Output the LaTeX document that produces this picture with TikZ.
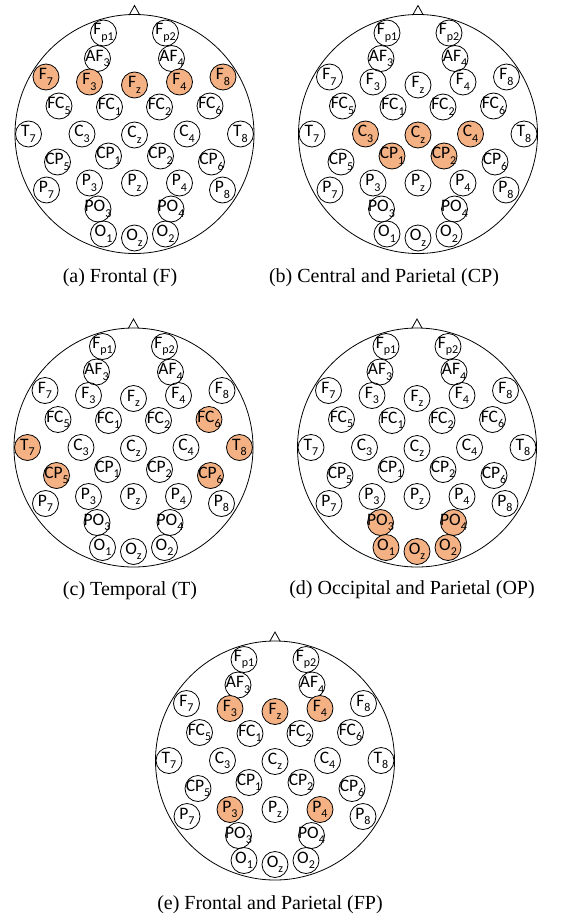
\documentclass[tikz,border=0pt]{standalone}
\usepackage{fontspec}
\setmainfont{Liberation Serif}
\newfontfamily\elecfont{Carlito}
\definecolor{elecfill}{HTML}{F4B183}
\newcommand\esub[1]{\raisebox{-5.5pt}{\fontsize{12}{12}\selectfont #1}}
\makeatletter
\newcommand\hlcheck[2]{%
  \edef\@tmpa{\noexpand\in@{,#1,}{,#2,}}\@tmpa
  \ifin@\tikzset{cur/.style={fill=elecfill}}\else\tikzset{cur/.style={}}\fi}
\makeatother
\tikzset{
  headc/.style={circle,draw,line width=0.8pt,minimum size=239pt,inner sep=0pt},
  elec/.style={circle,draw,line width=0.8pt,minimum size=26pt,inner sep=0pt,
    font=\elecfont\fontsize{17.5}{17.5}\selectfont},
  nose/.style={draw,line width=0.8pt},
  captext/.style={font=\fontsize{20}{24}\selectfont}
}
\newcommand\headpanel[4]{%
  \begin{scope}[shift={(#2,#3)}]
    \node[headc] (#1-head) at (0,0) {};
    \coordinate (#1-nl) at (-5,-119.5);
    \coordinate (#1-nt) at (0,-128.5);
    \coordinate (#1-nr) at (5,-119.5);
    \draw[nose] (#1-nl) -- (#1-nt) -- (#1-nr);
    \foreach \n/\x/\y/\t in {
      Fp1/-31/-101/{F\esub{p1}}, Fp2/31/-101/{F\esub{p2}},
      AF3/-37/-75.5/{AF\esub{3}}, AF4/37/-75.5/{AF\esub{4}},
      F7/-88.5/-57/{F\esub{7}}, F3/-45/-52/{F\esub{3}}, Fz/0/-49/{F\esub{z}},
      F4/45/-52/{F\esub{4}}, F8/88.5/-57/{F\esub{8}},
      FC5/-75.5/-28/{FC\esub{5}}, FC1/-25/-27/{FC\esub{1}},
      FC2/25/-27/{FC\esub{2}}, FC6/75.5/-28/{FC\esub{6}},
      T7/-106/0/{T\esub{7}}, C3/-52.5/0/{C\esub{3}}, Cz/0/1/{C\esub{z}},
      C4/52.5/0/{C\esub{4}}, T8/106/0/{T\esub{8}},
      CP5/-77/28/{CP\esub{5}}, CP1/-26/22/{CP\esub{1}},
      CP2/26/22/{CP\esub{2}}, CP6/77/28/{CP\esub{6}},
      P7/-88/56/{P\esub{7}}, P3/-45/49/{P\esub{3}}, Pz/0/49/{P\esub{z}},
      P4/45/49/{P\esub{4}}, P8/88/56/{P\esub{8}},
      PO3/-36.5/75/{PO\esub{3}}, PO4/36.5/75/{PO\esub{4}},
      O1/-31/100/{O\esub{1}}, Oz/0/104/{O\esub{z}}, O2/31/100/{O\esub{2}}}{
      \hlcheck{\n}{#4}
      \node[elec,cur] (#1-\n) at (\x,\y) {\makebox[0pt][c]{\t}};
    }
  \end{scope}}
\begin{document}
\begin{tikzpicture}[x=1pt,y=-1pt]
  \useasboundingbox (0,0) rectangle (561,918);
  \headpanel{a}{134.5}{134}{F7,F3,Fz,F4,F8}
  \headpanel{b}{418}{134}{C3,Cz,C4,CP1,CP2}
  \headpanel{c}{133.5}{447.5}{FC6,T7,T8,CP5,CP6}
  \headpanel{d}{417}{447.5}{PO3,PO4,O1,Oz,O2}
  \headpanel{e}{275}{760.5}{F3,Fz,F4,P3,P4}
  \node[captext] (capa) at (120,278) {(a) Frontal (F)};
  \node[captext] (capb) at (384,278) {(b) Central and Parietal (CP)};
  \node[captext] (capc) at (130,591) {(c) Temporal (T)};
  \node[captext] (capd) at (412,590) {(d) Occipital and Parietal (OP)};
  \node[captext] (cape) at (270,905) {(e) Frontal and Parietal (FP)};
\end{tikzpicture}
\end{document}
